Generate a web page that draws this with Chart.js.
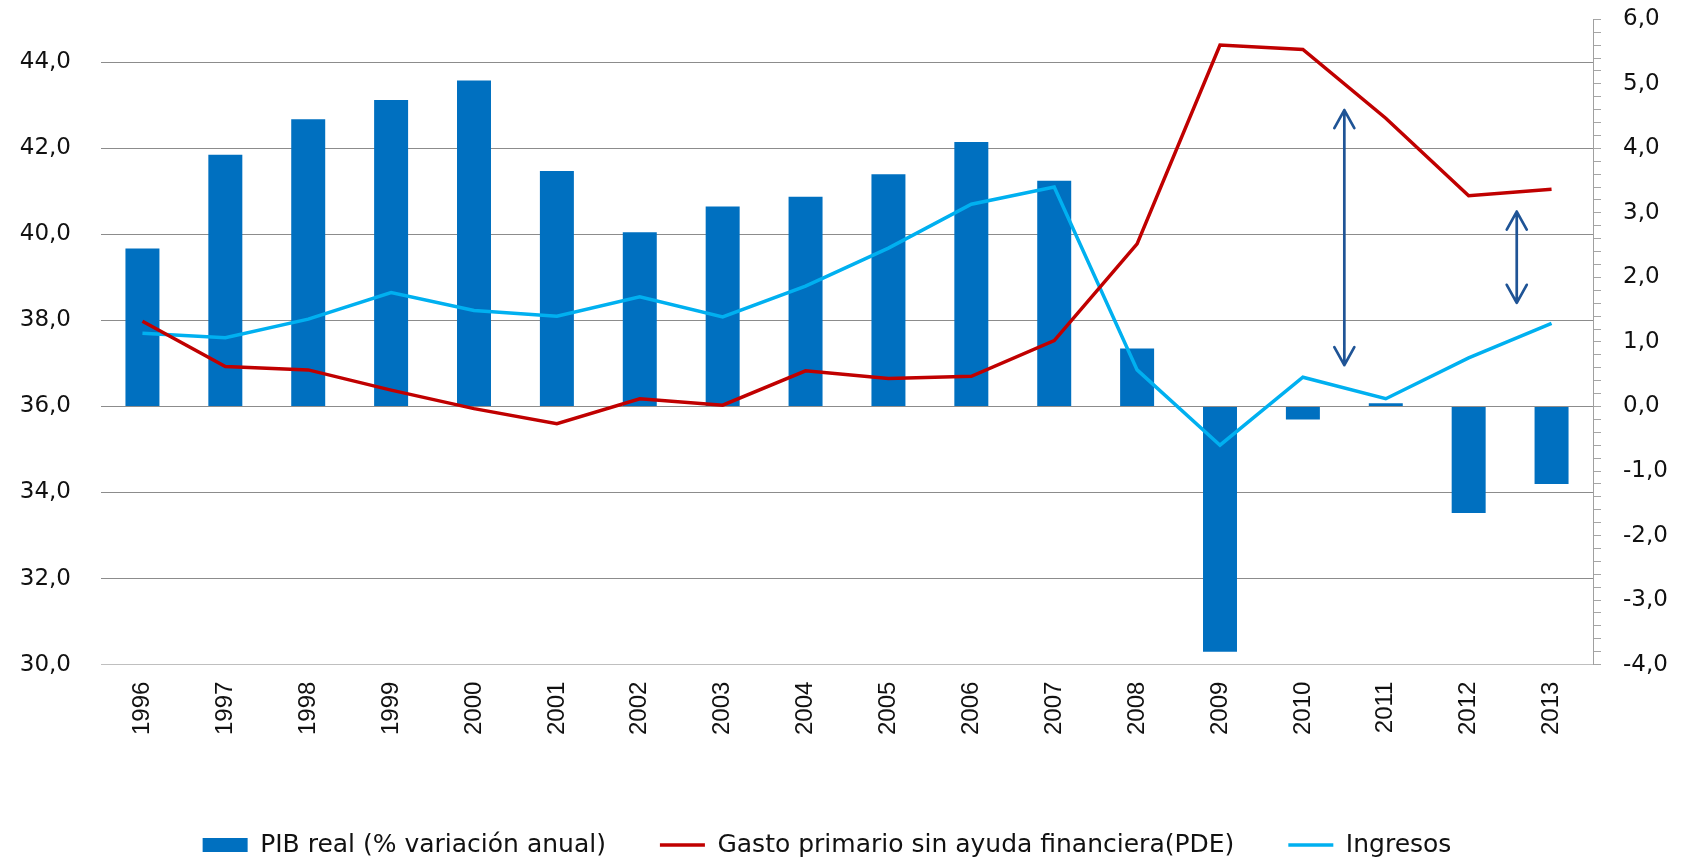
<!DOCTYPE html>
<html>
<head>
<meta charset="utf-8">
<script src="https://cdn.jsdelivr.net/npm/chart.js@4/dist/chart.umd.min.js"></script>
<style>
  html, body { margin: 0; padding: 0; background: #fff; }
  canvas { display: block; }
</style>
</head>
<body>
<canvas id="chart" width="1691" height="860"></canvas>
<script>
// values
const years = ['1996','1997','1998','1999','2000','2001','2002','2003','2004','2005','2006','2007','2008','2009','2010','2011','2012','2013'];
const pibReal = [2.45, 3.9, 4.45, 4.75, 5.05, 3.65, 2.7, 3.1, 3.25, 3.6, 4.1, 3.5, 0.9, -3.8, -0.2, 0.05, -1.65, -1.2];
const gastoPrimario = [37.98, 36.93, 36.85, 36.38, 35.95, 35.6, 36.18, 36.03, 36.83, 36.65, 36.7, 37.53, 39.78, 44.4, 44.3, 42.7, 40.9, 41.05];
const ingresos = [37.7, 37.6, 38.03, 38.65, 38.23, 38.1, 38.55, 38.08, 38.8, 39.68, 40.7, 41.1, 36.85, 35.1, 36.68, 36.18, 37.13, 37.93];

// double arrows (x as category index, ends in left-axis units)
const arrowAt = [14.5, 16.58];
const arrowTop = [42.89, 40.53];
const arrowBottom = [36.96, 38.41];

const fmt = v => v.toFixed(1).replace('.', ',');

const gapArrows = {
  id: 'gapArrows',
  afterDatasetsDraw(chart) {
    const { ctx, scales: { x, y } } = chart;
    ctx.save();
    ctx.strokeStyle = '#1f5496';
    ctx.lineWidth = 2.7;
    ctx.lineCap = 'round';
    ctx.lineJoin = 'round';
    arrowAt.forEach((pos, i) => {
      const px = x.getPixelForValue(pos);
      const t = y.getPixelForValue(arrowTop[i]);
      const b = y.getPixelForValue(arrowBottom[i]);
      ctx.beginPath();
      ctx.moveTo(px, t); ctx.lineTo(px, b);
      ctx.moveTo(px - 10, t + 18); ctx.lineTo(px, t); ctx.lineTo(px + 10, t + 18);
      ctx.moveTo(px - 10, b - 18); ctx.lineTo(px, b); ctx.lineTo(px + 10, b - 18);
      ctx.stroke();
    });
    ctx.restore();
  }
};

const tickFont = { family: 'DejaVu Sans', size: 23 };
// keep tick padding from pushing the plot area down
const noVPad = s => { s.paddingTop = 0; s.paddingBottom = 0; };

new Chart(document.getElementById('chart'), {
  type: 'bar',
  data: {
    labels: years,
    datasets: [
      { label: 'PIB real (% variación anual)', data: pibReal, yAxisID: 'y1', backgroundColor: '#0070c0',
        barPercentage: 0.41, categoryPercentage: 1, order: 2, pointStyle: 'rect' },
      { type: 'line', label: 'Gasto primario sin ayuda financiera(PDE)', data: gastoPrimario, yAxisID: 'y',
        borderColor: '#c00000', backgroundColor: '#c00000', borderWidth: 3.5, pointRadius: 0, tension: 0,
        order: 0, pointStyle: 'line' },
      { type: 'line', label: 'Ingresos', data: ingresos, yAxisID: 'y',
        borderColor: '#00b0f0', backgroundColor: '#00b0f0', borderWidth: 3.5, pointRadius: 0, tension: 0,
        order: 1, pointStyle: 'line' }
    ]
  },
  options: {
    responsive: false,
    animation: false,
    devicePixelRatio: 1,
    layout: { padding: { top: 19.3, left: -37, right: 0, bottom: -7.5 } },
    plugins: {
      tooltip: { enabled: false },
      legend: {
        position: 'bottom',
        labels: {
          usePointStyle: true, pointStyleWidth: 45, boxHeight: 14, padding: 54,
          color: '#111', font: { family: 'DejaVu Sans', size: 25 },
          sort: (a, b) => a.datasetIndex - b.datasetIndex
        }
      }
    },
    scales: {
      x: {
        grid: { display: false, drawTicks: false, tickLength: 0 },
        border: { display: true, color: '#bfbfbf' },
        ticks: { minRotation: 90, maxRotation: 90, autoSkip: false, padding: 17, color: '#111',
                 font: { family: 'Liberation Sans', size: 24 } },
        afterFit: s => { s.height = 113.9; }
      },
      y: {
        position: 'left', min: 30, max: 45,
        grid: { color: ctx => (ctx.tick && ctx.tick.value === 30) ? '#bfbfbf' : '#8c8c8c', drawTicks: false, tickLength: 0 },
        border: { display: false },
        ticks: { stepSize: 2, padding: 30, color: '#111', font: tickFont, callback: v => fmt(v) },
        afterBuildTicks: s => { s.ticks = s.ticks.filter(t => t.value <= 44.001); },
        afterFit: s => { s.width = 138; noVPad(s); }
      },
      y1: {
        position: 'right', min: -4, max: 6,
        grid: { drawOnChartArea: false, drawTicks: true, tickLength: 8, color: '#a6a6a6' },
        border: { display: true, color: '#a0a0a0' },
        ticks: { stepSize: 0.2, autoSkip: false, padding: 22, color: '#111', font: tickFont,
                 callback: v => Math.abs(v - Math.round(v)) < 1e-6 ? fmt(Math.round(v)) : '' },
        afterFit: s => { s.width = 98; noVPad(s); }
      }
    }
  },
  plugins: [gapArrows]
});
</script>
</body>
</html>
